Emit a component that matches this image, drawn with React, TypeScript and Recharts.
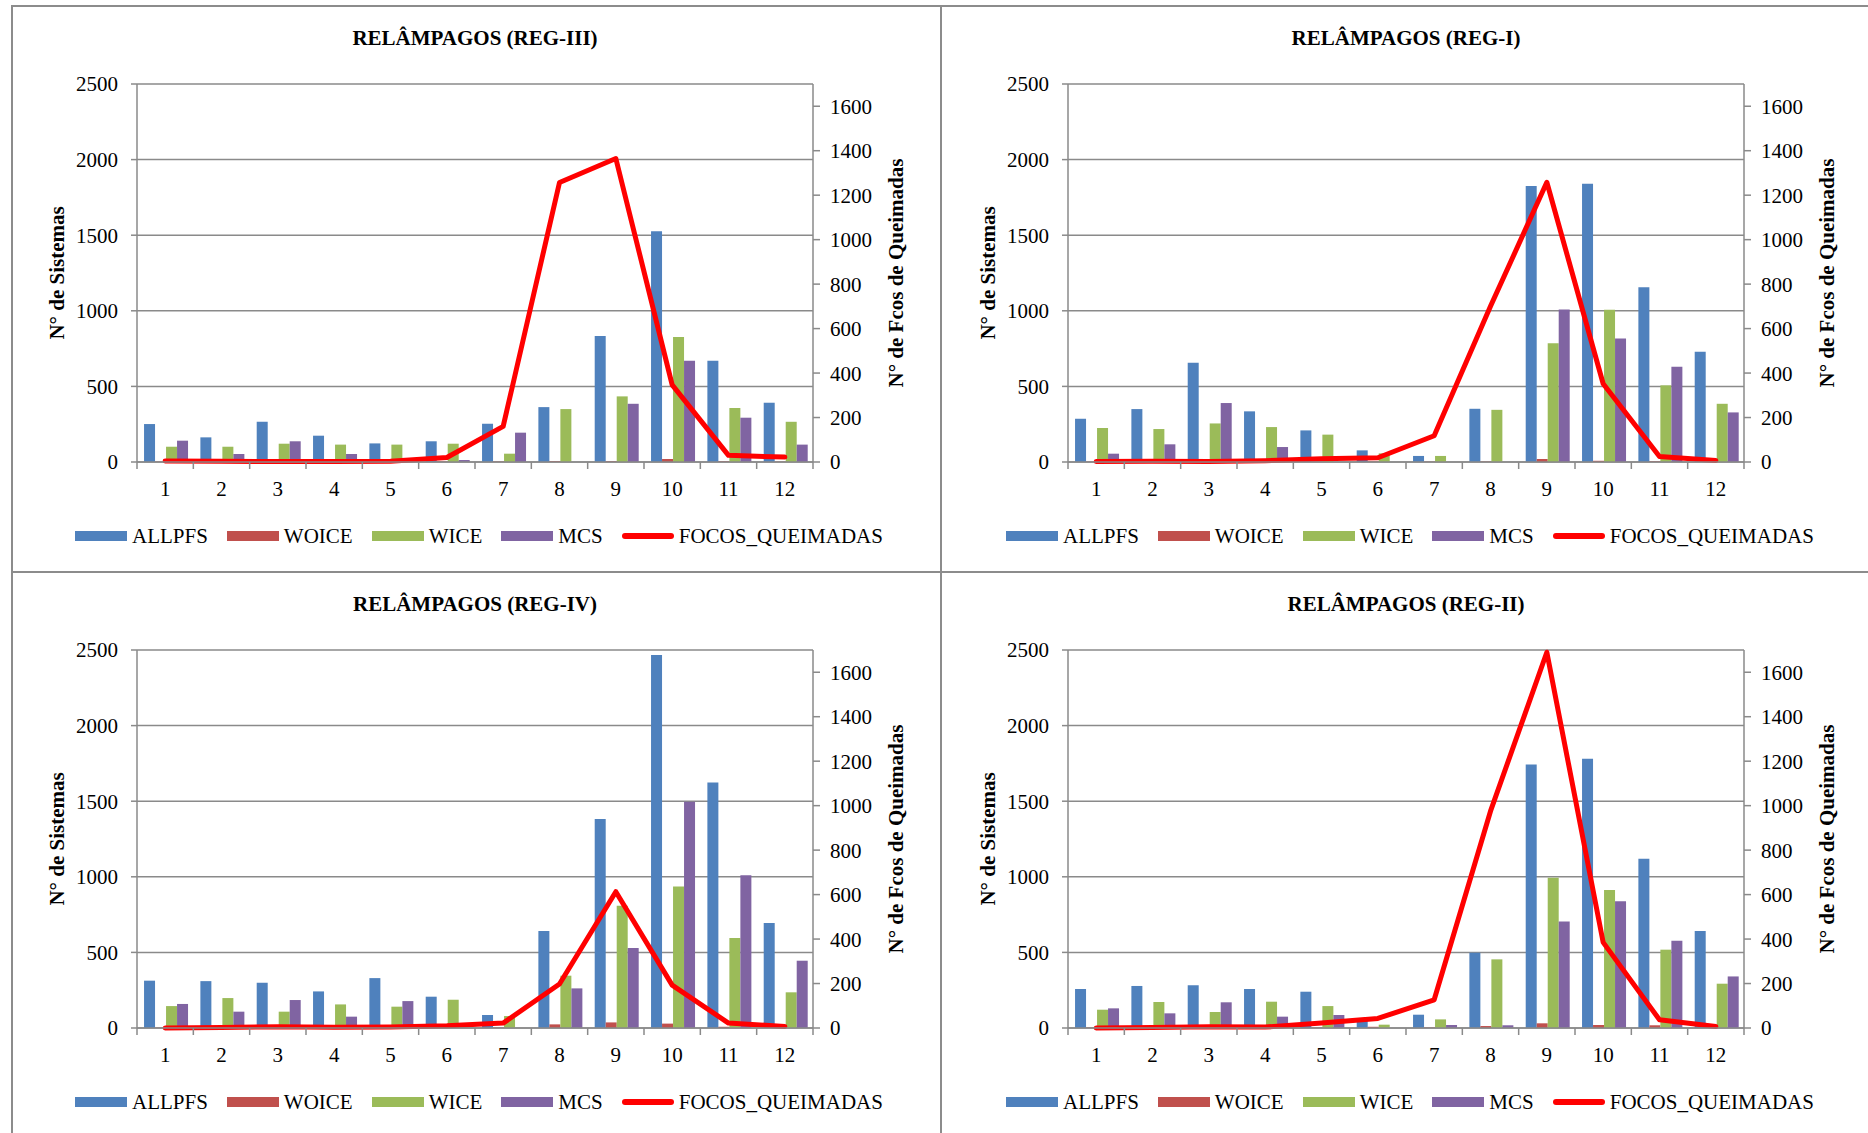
import React from "react";
import { ComposedChart, Bar, Line, XAxis, YAxis, CartesianGrid } from "recharts";

const FONT = '"Liberation Serif", "Times New Roman", serif';
const AXIS = "#8a8a8a";

const months = [1, 2, 3, 4, 5, 6, 7, 8, 9, 10, 11, 12];
const leftTicks = [0, 500, 1000, 1500, 2000, 2500];
const rightTicks = [0, 200, 400, 600, 800, 1000, 1200, 1400, 1600];

// REG-III
const reg3Allpfs = [251, 163, 266, 174, 123, 137, 253, 363, 833, 1526, 670, 392];
const reg3Woice = [2, 2, 2, 2, 2, 3, 3, 6, 5, 20, 5, 2];
const reg3Wice = [101, 101, 121, 115, 115, 121, 55, 350, 434, 826, 357, 266];
const reg3Mcs = [141, 53, 137, 53, 0, 13, 194, 0, 385, 670, 293, 115];
const reg3Focos = [5, 3, 2, 2, 3, 20, 160, 1257, 1365, 347, 30, 22];

// REG-I
const reg1Allpfs = [286, 350, 656, 335, 209, 77, 40, 352, 1826, 1841, 1156, 729];
const reg1Woice = [2, 2, 2, 2, 2, 3, 2, 3, 20, 8, 5, 2];
const reg1Wice = [225, 218, 255, 231, 181, 57, 40, 345, 786, 1007, 507, 385];
const reg1Mcs = [55, 117, 390, 99, 0, 0, 0, 0, 1009, 817, 630, 328];
const reg1Focos = [2, 3, 2, 6, 15, 19, 118, 700, 1258, 352, 25, 7];

// REG-IV
const reg4Allpfs = [313, 310, 300, 242, 330, 207, 86, 641, 1383, 2467, 1623, 694];
const reg4Woice = [2, 2, 3, 2, 2, 3, 3, 24, 37, 29, 8, 2];
const reg4Wice = [145, 198, 108, 156, 141, 187, 79, 346, 808, 936, 595, 236];
const reg4Mcs = [159, 108, 185, 75, 178, 0, 0, 262, 529, 1496, 1011, 445];
const reg4Focos = [0, 2, 6, 3, 5, 10, 22, 198, 613, 193, 22, 7];

// REG-II
const reg2Allpfs = [258, 278, 282, 258, 240, 48, 88, 498, 1742, 1780, 1119, 641];
const reg2Woice = [3, 3, 3, 3, 3, 8, 3, 13, 31, 20, 18, 3];
const reg2Wice = [121, 172, 106, 174, 145, 22, 57, 454, 993, 912, 518, 293];
const reg2Mcs = [130, 97, 170, 75, 86, 0, 20, 18, 705, 839, 577, 341];
const reg2Focos = [0, 2, 6, 4, 22, 43, 127, 975, 1690, 385, 37, 7];

const buildRows = (a: number[], wo: number[], wi: number[], mc: number[], fo: number[]) =>
  months.map((m, i) => ({
    m,
    ALLPFS: a[i],
    WOICE: wo[i],
    WICE: wi[i],
    MCS: mc[i],
    FOCOS_QUEIMADAS: fo[i],
  }));

const series = [
  { key: "ALLPFS", color: "#4F81BD" },
  { key: "WOICE", color: "#C0504D" },
  { key: "WICE", color: "#9BBB59" },
  { key: "MCS", color: "#8064A2" },
];

const PANEL_W = 929;
const PANEL_H = 566;
const PLOT_L = 126;
const PLOT_T = 79;
const PLOT_W = 676;
const PLOT_H = 378;
const X_AXIS_H = 40;
const LABEL_GAP = 19;

const tickStyle = { fontSize: 21, fill: "#000", fontFamily: FONT };

// category label plus Excel-style tick marks between categories
const MonthTick = (props: any) => {
  const { x, y, payload, index } = props;
  const band = PLOT_W / months.length;
  const axisY = y - LABEL_GAP;
  return (
    <g>
      <line x1={x - band / 2} x2={x - band / 2} y1={axisY} y2={axisY + 7} stroke={AXIS} strokeWidth={1.5} />
      {index === months.length - 1 && (
        <line x1={x + band / 2} x2={x + band / 2} y1={axisY} y2={axisY + 7} stroke={AXIS} strokeWidth={1.5} />
      )}
      <text x={x} y={y} dy="0.71em" textAnchor="middle" fontSize={21} fontFamily={FONT} fill="#000">
        {payload.value}
      </text>
    </g>
  );
};

const LegendRow = () => (
  <div
    style={{
      position: "absolute",
      left: 64,
      top: 519,
      height: 24,
      display: "flex",
      alignItems: "center",
      fontFamily: FONT,
      fontSize: 21,
      whiteSpace: "nowrap",
    }}
  >
    {series.map((s) => (
      <div key={s.key} style={{ display: "flex", alignItems: "center", marginRight: 19 }}>
        <div style={{ width: 52, height: 10, background: s.color }} />
        <span style={{ marginLeft: 5 }}>{s.key}</span>
      </div>
    ))}
    <div style={{ display: "flex", alignItems: "center" }}>
      <div style={{ width: 52, height: 6, background: "#FF0000", borderRadius: 3 }} />
      <span style={{ marginLeft: 5 }}>FOCOS_QUEIMADAS</span>
    </div>
  </div>
);

interface PanelProps {
  title: string;
  data: any[];
  x: number;
  y: number;
}

const Panel = ({ title, data, x, y }: PanelProps) => {
  return (
    <div style={{ position: "absolute", left: x, top: y, width: PANEL_W, height: PANEL_H }}>
      <div
        style={{
          position: "absolute",
          left: PLOT_L,
          width: PLOT_W,
          top: 22,
          textAlign: "center",
          fontFamily: FONT,
          fontWeight: "bold",
          fontSize: 21,
          lineHeight: "22px",
          whiteSpace: "nowrap",
        }}
      >
        {title}
      </div>
      <ComposedChart
        width={PANEL_W}
        height={PANEL_H}
        data={data}
        margin={{
          top: PLOT_T,
          left: 0,
          right: PANEL_W - PLOT_L - PLOT_W - 90,
          bottom: PANEL_H - PLOT_T - PLOT_H - X_AXIS_H,
        }}
        barCategoryGap="12.5%"
        barGap={0}
      >
        <CartesianGrid xAxisId="cat" yAxisId="l" vertical={false} stroke={AXIS} strokeWidth={1.5} />
        <XAxis
          xAxisId="cat"
          dataKey="m"
          interval={0}
          tick={<MonthTick />}
          tickLine={false}
          tickSize={0}
          tickMargin={LABEL_GAP}
          axisLine={{ stroke: AXIS, strokeWidth: 1.5 }}
          height={X_AXIS_H}
        />
        <YAxis
          yAxisId="l"
          width={PLOT_L}
          domain={[0, 2500]}
          ticks={leftTicks}
          interval={0}
          tick={tickStyle}
          tickSize={6}
          tickMargin={13}
          axisLine={{ stroke: AXIS, strokeWidth: 1.5 }}
          tickLine={{ stroke: AXIS, strokeWidth: 1.5 }}
        />
        <YAxis
          yAxisId="r"
          orientation="right"
          width={90}
          domain={[0, 1700]}
          ticks={rightTicks}
          interval={0}
          tick={tickStyle}
          tickSize={7}
          tickMargin={10}
          axisLine={{ stroke: AXIS, strokeWidth: 1.5 }}
          tickLine={{ stroke: AXIS, strokeWidth: 1.5 }}
        />
        {series.map((s) => (
          <Bar
            key={s.key}
            xAxisId="cat"
            yAxisId="l"
            dataKey={s.key}
            fill={s.color}
            isAnimationActive={false}
          />
        ))}
        <Line
          xAxisId="cat"
          yAxisId="r"
          type="linear"
          dataKey="FOCOS_QUEIMADAS"
          stroke="#FF0000"
          strokeWidth={5}
          strokeLinejoin="round"
          strokeLinecap="round"
          dot={false}
          activeDot={false}
          isAnimationActive={false}
        />
      </ComposedChart>
      <div
        style={{
          position: "absolute",
          left: 46,
          top: PLOT_T + PLOT_H / 2,
          transform: "translate(-50%, -50%) rotate(-90deg)",
          fontFamily: FONT,
          fontWeight: "bold",
          fontSize: 21,
          whiteSpace: "nowrap",
        }}
      >
        N° de Sistemas
      </div>
      <div
        style={{
          position: "absolute",
          left: 885,
          top: PLOT_T + PLOT_H / 2,
          transform: "translate(-50%, -50%) rotate(-90deg)",
          fontFamily: FONT,
          fontWeight: "bold",
          fontSize: 21,
          whiteSpace: "nowrap",
        }}
      >
        N° de Fcos de Queimadas
      </div>
      <LegendRow />
    </div>
  );
};

const hLine = (top: number) => (
  <div style={{ position: "absolute", left: 11, top, width: 1868 - 11, height: 2, background: "#8c8c8c" }} />
);
const vLine = (left: number) => (
  <div style={{ position: "absolute", left, top: 5, width: 2, height: 1133 - 5, background: "#8c8c8c" }} />
);

export default function App() {
  return (
    <div
      style={{
        position: "absolute",
        left: 0,
        top: 0,
        width: 1868,
        height: 1133,
        background: "#fff",
        overflow: "hidden",
      }}
    >
      <Panel title="RELÂMPAGOS (REG-III)" data={buildRows(reg3Allpfs, reg3Woice, reg3Wice, reg3Mcs, reg3Focos)} x={11} y={5} />
      <Panel title="RELÂMPAGOS (REG-I)" data={buildRows(reg1Allpfs, reg1Woice, reg1Wice, reg1Mcs, reg1Focos)} x={942} y={5} />
      <Panel title="RELÂMPAGOS (REG-IV)" data={buildRows(reg4Allpfs, reg4Woice, reg4Wice, reg4Mcs, reg4Focos)} x={11} y={571} />
      <Panel title="RELÂMPAGOS (REG-II)" data={buildRows(reg2Allpfs, reg2Woice, reg2Wice, reg2Mcs, reg2Focos)} x={942} y={571} />
      {hLine(5)}
      {hLine(571)}
      {vLine(11)}
      {vLine(940)}
    </div>
  );
}
